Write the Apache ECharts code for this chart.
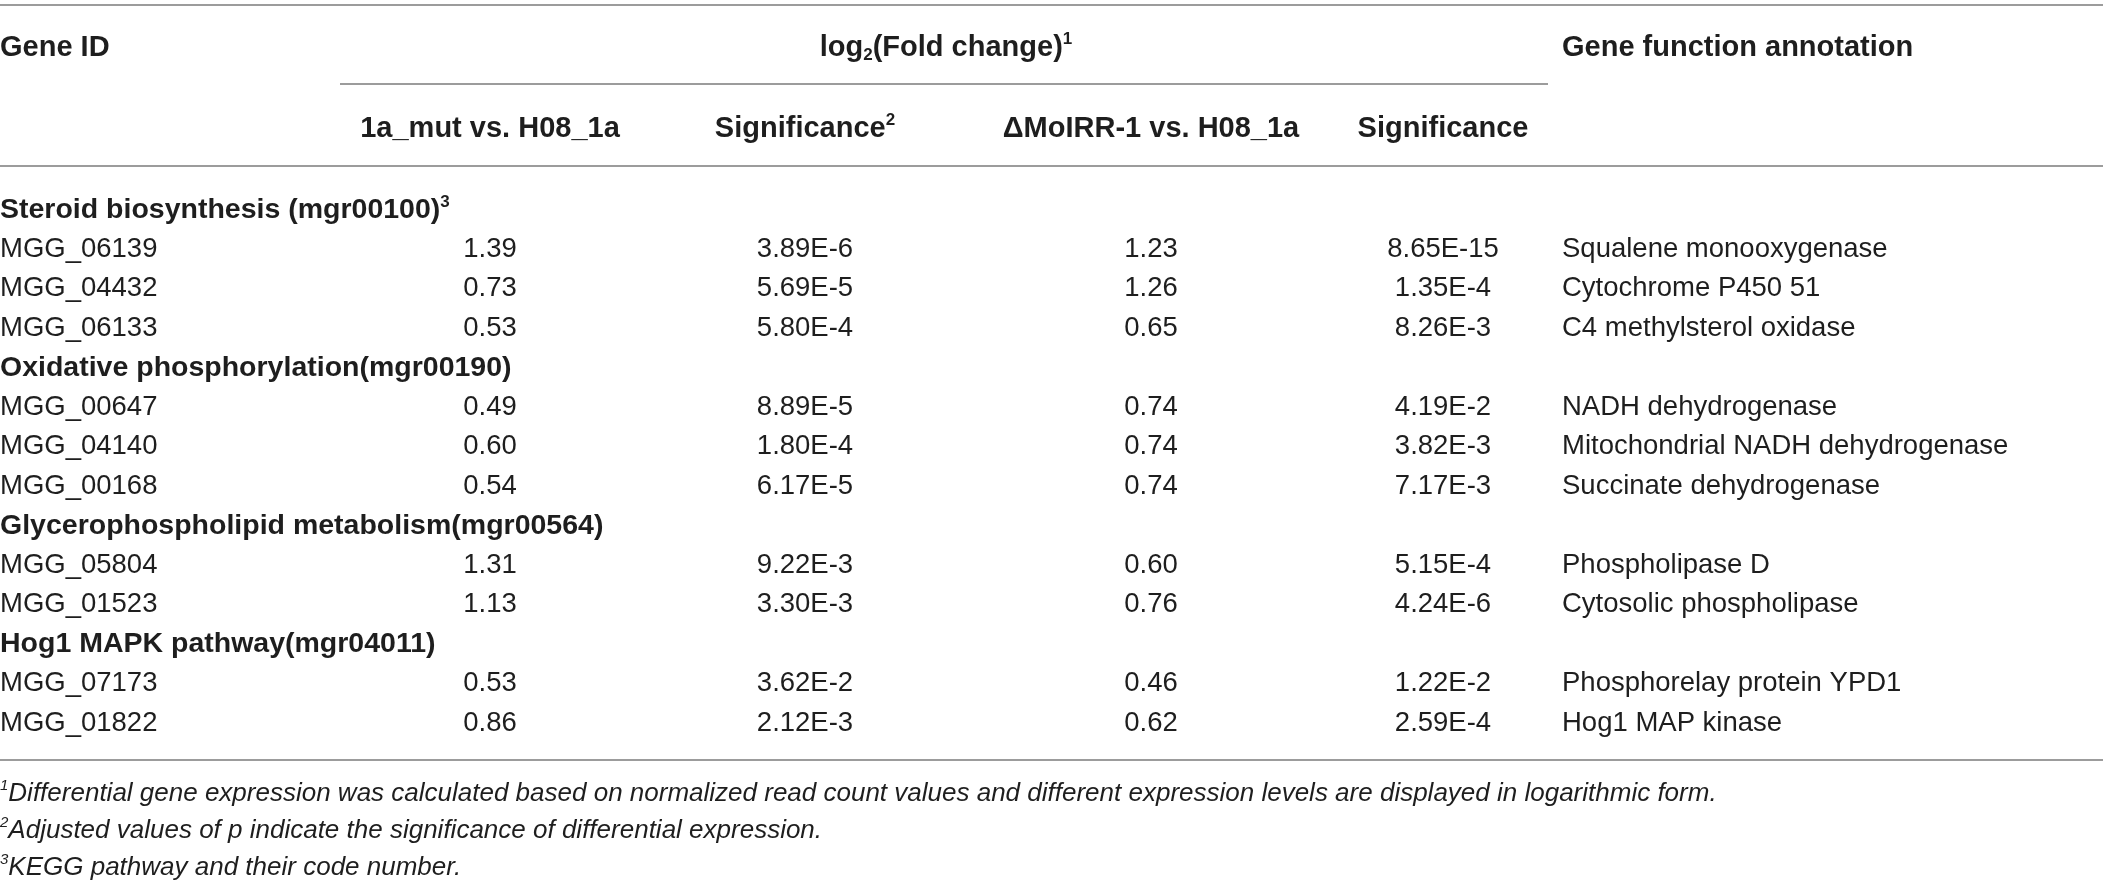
<!DOCTYPE html>
<html><head><meta charset="utf-8">
<script src="https://cdn.jsdelivr.net/npm/echarts@6/dist/echarts.min.js"></script>
<style>html,body{margin:0;padding:0;background:#fff}#c{width:2103px;height:887px}</style>
</head><body><div id="c"></div>
<script>
// ---------- DATA ----------
const pathways = ['Steroid biosynthesis (mgr00100)', 'Oxidative phosphorylation(mgr00190)', 'Glycerophospholipid metabolism(mgr00564)', 'Hog1 MAPK pathway(mgr04011)'];
const pathwayNotes = ['3', '', '', ''];
const geneIds = ['MGG_06139', 'MGG_04432', 'MGG_06133', 'MGG_00647', 'MGG_04140', 'MGG_00168', 'MGG_05804', 'MGG_01523', 'MGG_07173', 'MGG_01822'];
const genePathway = [0, 0, 0, 1, 1, 1, 2, 2, 3, 3];
const fcMut = [1.39, 0.73, 0.53, 0.49, 0.60, 0.54, 1.31, 1.13, 0.53, 0.86];
const sigMut = ['3.89E-6', '5.69E-5', '5.80E-4', '8.89E-5', '1.80E-4', '6.17E-5', '9.22E-3', '3.30E-3', '3.62E-2', '2.12E-3'];
const fcIrr = [1.23, 1.26, 0.65, 0.74, 0.74, 0.74, 0.60, 0.76, 0.46, 0.62];
const sigIrr = ['8.65E-15', '1.35E-4', '8.26E-3', '4.19E-2', '3.82E-3', '7.17E-3', '5.15E-4', '4.24E-6', '1.22E-2', '2.59E-4'];
const annotations = ['Squalene monooxygenase', 'Cytochrome P450 51', 'C4 methylsterol oxidase', 'NADH dehydrogenase', 'Mitochondrial NADH dehydrogenase', 'Succinate dehydrogenase', 'Phospholipase D', 'Cytosolic phospholipase', 'Phosphorelay protein YPD1', 'Hog1 MAP kinase'];
const headerTop = ['Gene ID', 'log{sub|2}(Fold change){sup|1}', 'Gene function annotation'];
const headerSub = ['1a_mut vs. H08_1a', 'Significance{sup|2}', '\u0394MoIRR-1 vs. H08_1a', 'Significance'];
const footnotes = ['Differential gene expression was calculated based on normalized read count values and different expression levels are displayed in logarithmic form.', 'Adjusted values of p indicate the significance of differential expression.', 'KEGG pathway and their code number.'];
const footnoteMarks = ['1', '2', '3'];

// ---------- LAYOUT / STYLE ----------
const W = 2103;
const FAM = '"Liberation Sans", Arial, Helvetica, sans-serif';
const COL = { id: 0, fcMut: 490, sigMut: 805, fcIrr: 1151, sigIrr: 1443, ann: 1562, logfc: 946 };
const INK = '#1e1e1e';
const RULE = '#9c9c9c';

function richSet(weight, size, style) {
  return {
    sup: { fontFamily: FAM, fontWeight: weight, fontStyle: style || 'normal', fontSize: Math.round(size * 0.58), verticalAlign: 'top', fill: INK, lineHeight: size * 1.15 },
    sub: { fontFamily: FAM, fontWeight: weight, fontStyle: style || 'normal', fontSize: Math.round(size * 0.58), verticalAlign: 'bottom', fill: INK, lineHeight: size * 1.15 }
  };
}

// Build body rows
const bodyCells = []; // [x, row, text, align, kind]
let r = 0;
pathways.forEach((p, pi) => {
  bodyCells.push([COL.id, r, p + (pathwayNotes[pi] ? '{sup|' + pathwayNotes[pi] + '}' : ''), 'left', 'bold']);
  r++;
  geneIds.forEach((g, gi) => {
    if (genePathway[gi] !== pi) return;
    bodyCells.push([COL.id, r, g, 'left', 'reg']);
    bodyCells.push([COL.fcMut, r, fcMut[gi].toFixed(2), 'center', 'reg']);
    bodyCells.push([COL.sigMut, r, sigMut[gi], 'center', 'reg']);
    bodyCells.push([COL.fcIrr, r, fcIrr[gi].toFixed(2), 'center', 'reg']);
    bodyCells.push([COL.sigIrr, r, sigIrr[gi], 'center', 'reg']);
    bodyCells.push([COL.ann, r, annotations[gi], 'left', 'reg']);
    r++;
  });
});
const bodyRows = r;

const headCells = [
  [COL.id, 0, headerTop[0], 'left', 'head'],
  [COL.logfc, 0, headerTop[1], 'center', 'head'],
  [COL.ann, 0, headerTop[2], 'left', 'head'],
  [COL.fcMut, 1, headerSub[0], 'center', 'head'],
  [COL.sigMut, 1, headerSub[1], 'center', 'head'],
  [COL.fcIrr, 1, headerSub[2], 'center', 'head'],
  [COL.sigIrr, 1, headerSub[3], 'center', 'head']
];
const footCells = footnotes.map((t, i) => [COL.id, i, '{sup|' + footnoteMarks[i] + '}' + t, 'left', 'foot']);

const KIND = {
  head: { weight: 'bold', size: 29, style: 'normal' },
  bold: { weight: 'bold', size: 28.5, style: 'normal' },
  reg: { weight: 'normal', size: 27.5, style: 'normal' },
  foot: { weight: 'normal', size: 26, style: 'italic' }
};

function textSeries(idx, cells) {
  return {
    type: 'custom', coordinateSystem: 'cartesian2d', xAxisIndex: idx, yAxisIndex: idx,
    data: cells.map(c => [c[0], c[1]]),
    silent: true, animation: false,
    renderItem: function (params, api) {
      const c = cells[params.dataIndex];
      const k = KIND[c[4]];
      const p = api.coord([api.value(0), api.value(1)]);
      return {
        type: 'text', x: p[0], y: p[1],
        style: {
          text: c[2], align: c[3], verticalAlign: 'middle',
          fontFamily: FAM, fontWeight: k.weight, fontSize: k.size, fontStyle: k.style,
          fill: INK, rich: richSet(k.weight, k.size, k.style)
        }
      };
    }
  };
}

function cats(n) { return Array.from({ length: n }, (_, i) => String(i)); }

const chart = echarts.init(document.getElementById('c'), null, { renderer: 'canvas' });
chart.setOption({
  backgroundColor: '#fff',
  animation: false,
  grid: [
    { left: 0, width: W, top: 7, height: 162 },
    { left: 0, width: W, top: 190, height: 553 },
    { left: 0, width: W, top: 775, height: 111 }
  ],
  xAxis: [0, 1, 2].map(i => ({ type: 'value', gridIndex: i, min: 0, max: W, show: false })),
  yAxis: [
    { type: 'category', gridIndex: 0, data: cats(2), inverse: true, show: false },
    { type: 'category', gridIndex: 1, data: cats(bodyRows), inverse: true, show: false },
    { type: 'category', gridIndex: 2, data: cats(footnotes.length), inverse: true, show: false }
  ],
  graphic: [
    { type: 'line', shape: { x1: 0, y1: 5, x2: W, y2: 5 }, style: { stroke: RULE, lineWidth: 2 } },
    { type: 'line', shape: { x1: 340, y1: 84, x2: 1548, y2: 84 }, style: { stroke: RULE, lineWidth: 2 } },
    { type: 'line', shape: { x1: 0, y1: 166, x2: W, y2: 166 }, style: { stroke: RULE, lineWidth: 2 } },
    { type: 'line', shape: { x1: 0, y1: 760, x2: W, y2: 760 }, style: { stroke: RULE, lineWidth: 2 } }
  ],
  series: [textSeries(0, headCells), textSeries(1, bodyCells), textSeries(2, footCells)]
});
</script></body></html>
